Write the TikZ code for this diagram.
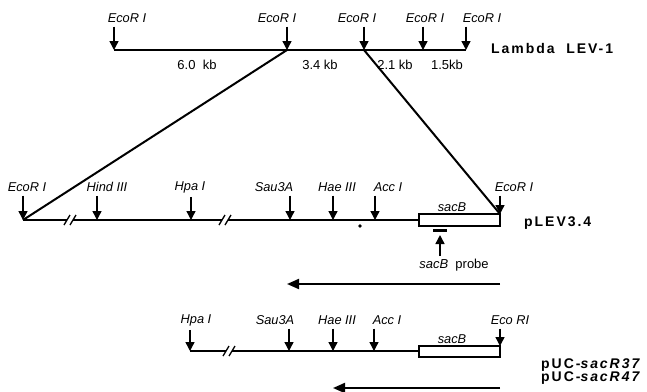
\documentclass[tikz,border=0pt]{standalone}
\usepackage{fontspec}
\setmainfont{Liberation Sans}
\newfontfamily\boldsp[LetterSpace=14,ItalicFont={Liberation Sans Bold Italic}]{Liberation Sans Bold}
\usetikzlibrary{arrows.meta}
\begin{document}
\begin{tikzpicture}[x=1pt,y=-1pt,
  sitelab/.style={font=\itshape\fontsize{12.8}{14}\selectfont, inner sep=1pt},
  sizelab/.style={font=\fontsize{13}{15}\selectfont, inner sep=1pt},
  mapname/.style={font=\boldsp\fontsize{14}{16}\selectfont, inner sep=1pt, anchor=west},
  cut/.style={line width=1.4pt, -{Triangle[length=9pt,width=9pt]}, shorten <=3pt},
  topdna/.style={line width=2.6pt},
  dna/.style={line width=1.3pt},
  link/.style={line width=2pt},
  brk/.style={line width=1.3pt},
]
\useasboundingbox (0,0) rectangle (647,391);

% ---------- Lambda LEV-1 ----------
\coordinate (T1) at (114,50);
\coordinate (T2) at (287,50);
\coordinate (T3) at (364,50);
\coordinate (T4) at (423,50);
\coordinate (T5) at (466,50);
\draw[topdna] (T1) -- (T5);
\node[sitelab] (lt1) at (127,18) {EcoR I};
\node[sitelab] (lt2) at (277,18) {EcoR I};
\node[sitelab] (lt3) at (357,18) {EcoR I};
\node[sitelab] (lt4) at (425,18) {EcoR I};
\node[sitelab] (lt5) at (482,18) {EcoR I};
\foreach \i in {1,...,5} \draw[cut] (lt\i.south -| T\i) -- (T\i);
\node[sizelab] (s1) at (197,65) {6.0\ \ kb};
\node[sizelab] (s2) at (320,65) {3.4 kb};
\node[sizelab] (s3) at (395,65) {2.1 kb};
\node[sizelab] (s4) at (447,65) {1.5kb};
\node[mapname] (lam) at (490,48) {Lambda\ \ LEV-1};

% ---------- pLEV3.4 ----------
\coordinate (M1) at (23,220);
\coordinate (M2) at (97,220);
\coordinate (M3) at (191,220);
\coordinate (M4) at (290,220);
\coordinate (M5) at (333,220);
\coordinate (M6) at (375,220);
\coordinate (M7) at (500,214);
\node[draw, line width=1.3pt, minimum width=81pt, minimum height=12pt, inner sep=0pt] (box1) at (459.5,220) {};
\draw[dna] (M1) -- (67,220);
\draw[brk] (64,225) -- (70,215);
\draw[brk] (70,225) -- (76,215);
\draw[dna] (73,220) -- (222,220);
\draw[brk] (219,225) -- (225,215);
\draw[brk] (225,225) -- (231,215);
\draw[dna] (228,220) -- (box1.west);
\node[sitelab] (lm1) at (27,187) {EcoR I};
\node[sitelab] (lm2) at (107,187) {Hind III};
\node[sitelab] (lm3) at (190,187) {Hpa I};
\node[sitelab] (lm4) at (274,187) {Sau3A};
\node[sitelab] (lm5) at (337,187) {Hae III};
\node[sitelab] (lm6) at (388,187) {Acc I};
\node[sitelab] (lm7) at (514,187) {EcoR I};
\foreach \i in {1,...,7} \draw[cut] (lm\i.south -| M\i) -- (M\i);
\node[sitelab, anchor=south] (sac1) at (452,213) {sacB};
\fill (360,226) circle (1.8pt);
\node[mapname] (plev) at (523,223) {pLEV3.4};
% probe
\draw[line width=3pt] (433,230) -- (447,230);
\node[inner sep=1pt, font=\fontsize{13}{15}\selectfont] (probe) at (454,265) {\textit{sacB}\ \ probe};
\draw[line width=1.4pt, -{Triangle[length=9pt,width=9pt]}] (440,256) -- (440,235);
% transcript arrow
\coordinate (a1s) at (500,284);
\coordinate (a1e) at (287,284);
\draw[line width=2pt, -{Triangle[length=12pt,width=10pt]}] (a1s) -- (a1e);

% links
\draw[link] (T2) -- (M1);
\draw[link] (T3) -- (M7);

% ---------- pUC-sacR37 / 47 ----------
\coordinate (B1) at (190,351);
\coordinate (B2) at (289,351);
\coordinate (B3) at (333,351);
\coordinate (B4) at (374,351);
\coordinate (B5) at (500,346);
\node[draw, line width=1.3pt, minimum width=81pt, minimum height=11pt, inner sep=0pt] (box2) at (459.5,351.5) {};
\draw[dna] (B1) -- (226,351);
\draw[brk] (223,356) -- (229,346);
\draw[brk] (229,356) -- (235,346);
\draw[dna] (232,351) -- (box2.west |- B1);
\node[sitelab] (lb1) at (196,320) {Hpa I};
\node[sitelab] (lb2) at (275,320) {Sau3A};
\node[sitelab] (lb3) at (337,320) {Hae III};
\node[sitelab] (lb4) at (387,320) {Acc I};
\node[sitelab] (lb5) at (510,320) {Eco RI};
\foreach \i in {1,...,5} \draw[cut] (lb\i.south -| B\i) -- (B\i);
\node[sitelab, anchor=south] (sac2) at (452,345) {sacB};
\node[mapname] (r37) at (540,365) {pUC-\textit{sacR37}};
\node[mapname] (r47) at (540,378) {pUC-\textit{sacR47}};
\coordinate (a2s) at (500,388);
\coordinate (a2e) at (333,388);
\draw[line width=2pt, -{Triangle[length=12pt,width=10pt]}] (a2s) -- (a2e);
\end{tikzpicture}
\end{document}
